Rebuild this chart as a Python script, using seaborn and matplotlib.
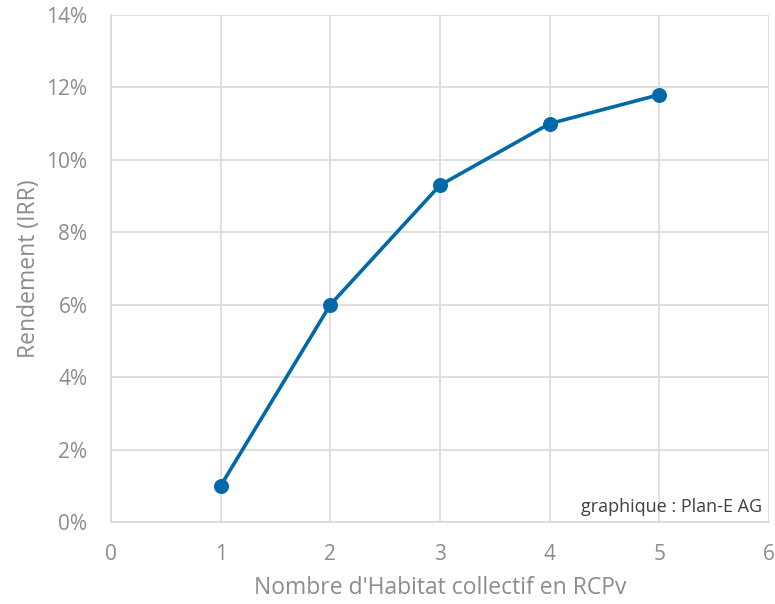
import matplotlib
matplotlib.use("Agg")
import matplotlib.pyplot as plt
import seaborn as sns
import pandas as pd
from matplotlib.ticker import PercentFormatter, MultipleLocator

habitats = [1, 2, 3, 4, 5]
rendement = [1.0, 6.0, 9.3, 11.0, 11.8]

df = pd.DataFrame({"n": habitats, "irr": rendement})

sns.set_theme(style="white")
plt.rcParams['font.family'] = ['Open Sans', 'DejaVu Sans']

grey_text = "#8C8C8C"
grid_c = "#D9D9D9"
blue = "#0069A8"

fig = plt.figure(figsize=(7.75, 6.04), dpi=100)
ax = fig.add_axes([111/775, 82/604, 658/775, 507/604])

sns.lineplot(data=df, x="n", y="irr", ax=ax, color=blue, linewidth=2.6,
             marker="o", markersize=10, markeredgecolor=blue, zorder=3)

ax.set_xlim(0, 6)
ax.set_ylim(0, 14)
ax.xaxis.set_major_locator(MultipleLocator(1))
ax.yaxis.set_major_locator(MultipleLocator(2))
ax.yaxis.set_major_formatter(PercentFormatter(decimals=0))
ax.grid(True, color=grid_c, linewidth=1.2)
for s in ax.spines.values():
    s.set_visible(False)
ax.spines['left'].set_visible(True)
ax.spines['bottom'].set_visible(True)
ax.spines['left'].set_color(grid_c)
ax.spines['bottom'].set_color(grid_c)
ax.spines['left'].set_linewidth(1.2)
ax.spines['bottom'].set_linewidth(1.2)
ax.tick_params(axis='both', length=0, labelsize=15, colors=grey_text)
ax.tick_params(axis='x', pad=16)
ax.tick_params(axis='y', pad=17)
ax.set_xlabel("Nombre d'Habitat collectif en RCPv", fontsize=16.5, color=grey_text, labelpad=8)
ax.set_ylabel("Rendement (IRR)", fontsize=16.5, color=grey_text, labelpad=4)

ax.text(0.99, 0.012, "graphique : Plan-E AG", transform=ax.transAxes,
        ha="right", va="bottom", fontsize=13, color="#404040")

fig.savefig("out.png", dpi=100)
